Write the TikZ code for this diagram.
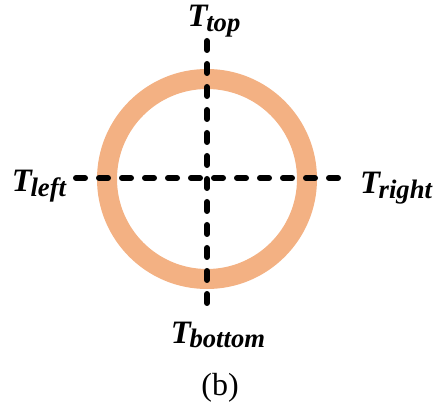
\documentclass[tikz,border=0pt]{standalone}
\usepackage{fontspec}
\setmainfont{Liberation Serif}
\definecolor{ring}{HTML}{F3B183}
\usetikzlibrary{positioning}
\newcommand{\Tlbl}[1]{\textbf{\textit{T\kern-1pt\raisebox{-0.32ex}{\fontsize{20}{20}\selectfont #1}}}}
\tikzset{
  lbl/.style  ={font=\fontsize{24.5}{24.5}\selectfont,inner sep=1pt},
  probe/.style={draw=black,line width=4.5pt,line cap=round,
                dash pattern=on 6.75pt off 10.5pt},
  ringline/.style={draw=ring,line width=15pt},
}
\begin{document}
\begin{tikzpicture}[x=0.75pt,y=0.75pt]
\useasboundingbox (0,0) rectangle (434,406);
% ring
\coordinate (c) at (207,227);
\draw[ringline] (c) circle[radius=100];
% labels
\node[lbl] (ttop) at (214,385) {\Tlbl{top}};
\node[lbl] (tleft) at (39,220) {\Tlbl{left}};
\node[lbl] (tright) at (396,218) {\Tlbl{right}};
\node[lbl] (tbottom) at (218,71) {\Tlbl{bottom}};
\node[font=\fontsize{24}{24}\selectfont] (cap) at (220,18) {(b)};
% probe lines
\coordinate (hl) at (76,228);
\coordinate (hr) at (340,228);
\coordinate (vt) at (207,365);
\coordinate (vb) at (207,97);
\draw[probe] (hl) -- (hr);
\draw[probe] (vt) -- (vb);
\end{tikzpicture}
\end{document}
